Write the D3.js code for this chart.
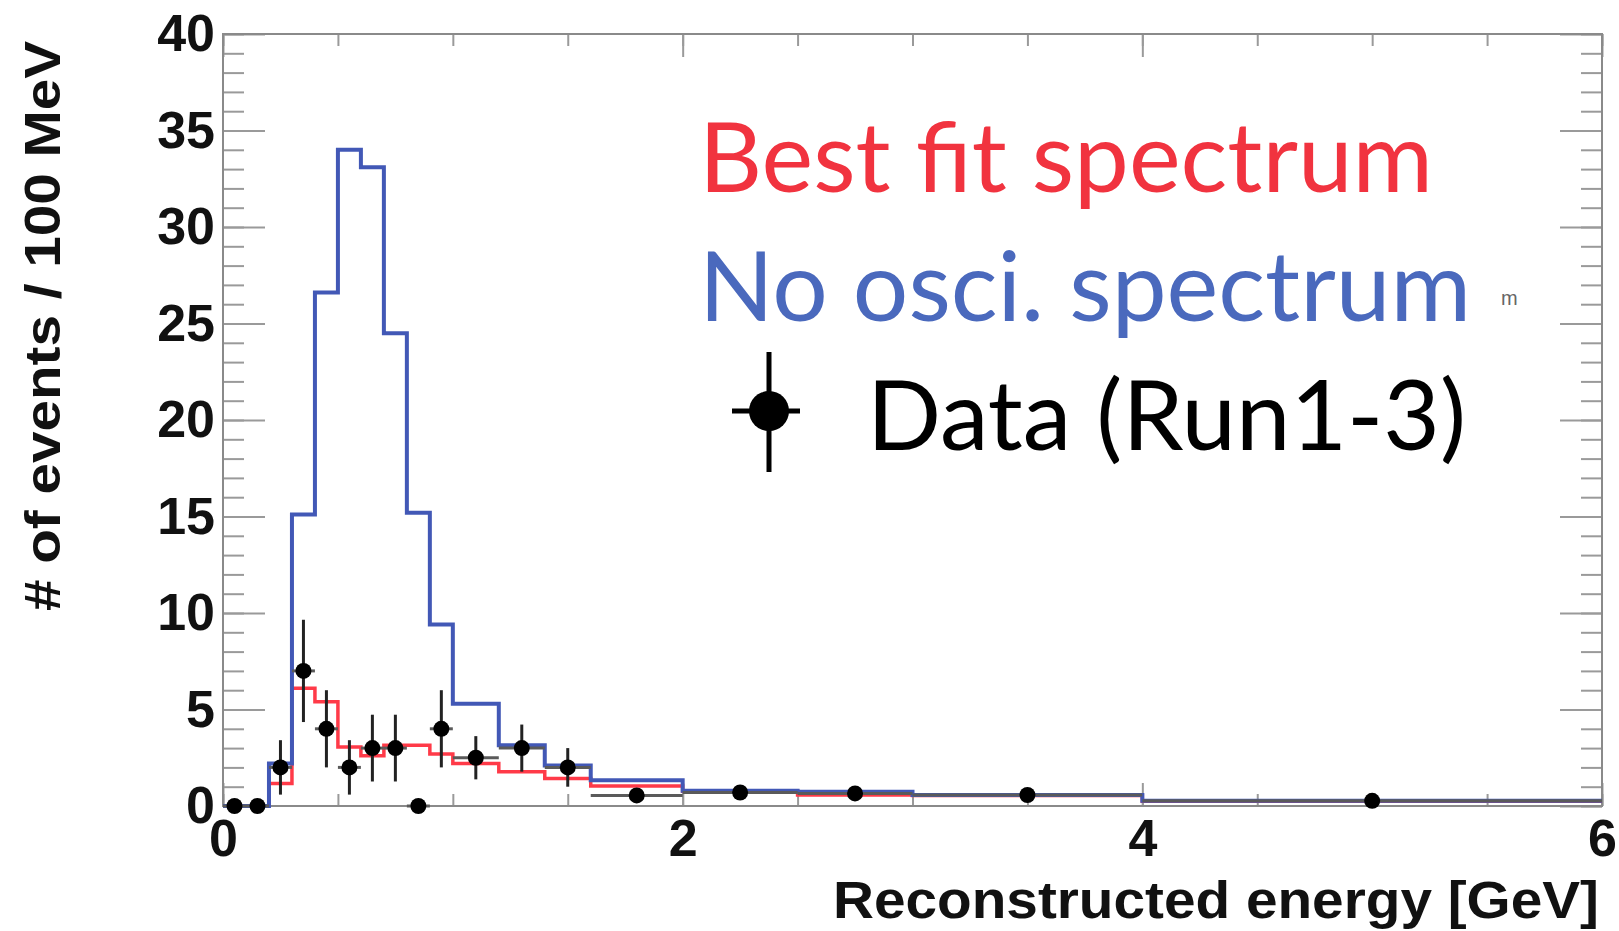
<!DOCTYPE html>
<html>
<head>
<meta charset="utf-8">
<script src="https://cdn.jsdelivr.net/npm/d3@7"></script>
<style>
  body { margin: 0; background: #fff; }
  svg { display: block; }
</style>
</head>
<body>
<svg id="chart"></svg>
<script>
// bin edges in GeV (variable width bins)
const binEdges = [0, 0.1, 0.2, 0.3, 0.4, 0.5, 0.6, 0.7, 0.8, 0.9, 1.0, 1.2, 1.4, 1.6, 2.0, 2.5, 3.0, 4.0, 6.0];
// events / 100 MeV
const noOscValues = [0, 0, 2.2, 15.1, 26.6, 34.0, 33.1, 24.5, 15.2, 9.4, 5.3, 3.15, 2.1, 1.34, 0.79, 0.74, 0.57, 0.27];
const bestFitValues = [0, 0, 1.17, 6.1, 5.4, 3.06, 2.6, 3.15, 3.15, 2.7, 2.2, 1.77, 1.43, 1.03, 0.76, 0.57, 0.55, 0.25];
const dataValues = [0, 0, 2, 7, 4, 2, 3, 3, 0, 4, 2.5, 3, 2, 0.55, 0.7, 0.65, 0.57, 0.27];
const dataErrors = [0, 0, 1.41, 2.65, 2, 1.41, 1.73, 1.73, 0, 2, 1.12, 1.22, 1, 0.35, 0.35, 0.35, 0.25, 0.12];
const xTickLabels = [0, 2, 4, 6];
const yTickLabels = [0, 5, 10, 15, 20, 25, 30, 35, 40];
const legendLabels = ["Best fit spectrum", "No osci. spectrum", "Data (Run1-3)"];

const width = 1619, height = 931;
const margin = {top: 34, right: 17, bottom: 125, left: 223};

let svg = d3.select("#chart")
            .attr("width", width)
            .attr("height", height);

let xScale = d3.scaleLinear()
                .domain([0, 6])
                .range([margin.left, width - margin.right]);

let yScale = d3.scaleLinear()
                .domain([0, 40])
                .range([height - margin.bottom, margin.top]);

const tickColor = "#9a9a9a";
const numFont = "'Liberation Sans', Arial, sans-serif";

// helper: draw one set of frame ticks
function drawTicks(axis, tx, ty) {
    let g = svg.append("g")
        .attr("transform", `translate(${tx},${ty})`)
        .call(axis);
    g.select(".domain").remove();
    g.selectAll("line").attr("stroke", tickColor).attr("stroke-width", 2);
    return g;
}

let xMinor = d3.range(0, 6.001, 0.5);
let yMinor = d3.range(0, 40.001, 1);

// bottom and top ticks (pointing inside)
drawTicks(d3.axisTop(xScale).tickValues(xMinor).tickSize(12).tickFormat(""), 0, yScale(0));
drawTicks(d3.axisTop(xScale).tickValues(xTickLabels).tickSize(23).tickFormat(""), 0, yScale(0));
drawTicks(d3.axisBottom(xScale).tickValues(xMinor).tickSize(12).tickFormat(""), 0, yScale(40));
drawTicks(d3.axisBottom(xScale).tickValues(xTickLabels).tickSize(23).tickFormat(""), 0, yScale(40));

// left and right ticks
drawTicks(d3.axisRight(yScale).tickValues(yMinor).tickSize(21).tickFormat(""), xScale(0), 0);
drawTicks(d3.axisRight(yScale).tickValues(yTickLabels).tickSize(42).tickFormat(""), xScale(0), 0);
drawTicks(d3.axisLeft(yScale).tickValues(yMinor).tickSize(21).tickFormat(""), xScale(6), 0);
drawTicks(d3.axisLeft(yScale).tickValues(yTickLabels).tickSize(42).tickFormat(""), xScale(6), 0);

// frame
svg.append("rect")
    .attr("x", xScale(0))
    .attr("y", yScale(40))
    .attr("width", xScale(6) - xScale(0))
    .attr("height", yScale(0) - yScale(40))
    .attr("fill", "none")
    .attr("stroke", "#8a8a8a")
    .attr("stroke-width", 2);

// tick labels
let xLabels = svg.append("g")
    .attr("transform", `translate(0,${yScale(0)})`)
    .call(d3.axisBottom(xScale).tickValues(xTickLabels).tickSize(0).tickPadding(13).tickFormat(d3.format("d")));
xLabels.select(".domain").remove();
xLabels.selectAll("text")
    .attr("font-family", numFont)
    .attr("font-weight", "bold")
    .attr("font-size", 52)
    .attr("fill", "#111");

let yLabels = svg.append("g")
    .attr("transform", `translate(${xScale(0)},0)`)
    .call(d3.axisLeft(yScale).tickValues(yTickLabels).tickSize(0).tickPadding(8).tickFormat(d3.format("d")));
yLabels.select(".domain").remove();
yLabels.selectAll("text")
    .attr("font-family", numFont)
    .attr("font-weight", "bold")
    .attr("font-size", 52)
    .attr("fill", "#111");

// axis titles
svg.append("text")
    .attr("x", xScale(6) - 3)
    .attr("y", 918)
    .attr("text-anchor", "end")
    .attr("font-family", numFont)
    .attr("font-weight", "bold")
    .attr("font-size", 51)
    .attr("textLength", 766)
    .attr("lengthAdjust", "spacingAndGlyphs")
    .attr("fill", "#111")
    .text("Reconstructed energy [GeV]");

svg.append("text")
    .attr("transform", "rotate(-90)")
    .attr("x", -41)
    .attr("y", 60)
    .attr("text-anchor", "end")
    .attr("font-family", numFont)
    .attr("font-weight", "bold")
    .attr("font-size", 50)
    .attr("textLength", 570)
    .attr("lengthAdjust", "spacingAndGlyphs")
    .attr("fill", "#111")
    .text("# of events / 100 MeV");

// histograms as step lines
function stepPoints(values) {
    let pts = [[binEdges[0], 0]];
    values.forEach((v, i) => {
        pts.push([binEdges[i], v]);
        pts.push([binEdges[i + 1], v]);
    });
    return pts;
}

let stepLine = d3.line()
    .x(d => xScale(d[0]))
    .y(d => yScale(d[1]));

svg.append("path")
    .datum(stepPoints(bestFitValues))
    .attr("d", stepLine)
    .attr("fill", "none")
    .attr("stroke", "#ff3a48")
    .attr("stroke-width", 3.5);

svg.append("path")
    .datum(stepPoints(noOscValues))
    .attr("d", stepLine)
    .attr("fill", "none")
    .attr("stroke", "#4258b6")
    .attr("stroke-width", 4);

// data points with error bars
let points = dataValues.map((v, i) => ({
    x0: binEdges[i],
    x1: binEdges[i + 1],
    xc: (binEdges[i] + binEdges[i + 1]) / 2,
    v: v,
    err: dataErrors[i]
}));

let dataG = svg.append("g");

dataG.selectAll(".xerr")
    .data(points)
    .enter()
    .append("line")
        .attr("x1", d => xScale(d.x0))
        .attr("x2", d => xScale(d.x1))
        .attr("y1", d => yScale(d.v))
        .attr("y2", d => yScale(d.v))
        .attr("stroke", "#5a5a5a")
        .attr("stroke-width", 3);

dataG.selectAll(".yerr")
    .data(points.filter(d => d.err > 0))
    .enter()
    .append("line")
        .attr("x1", d => xScale(d.xc))
        .attr("x2", d => xScale(d.xc))
        .attr("y1", d => yScale(d.v - d.err))
        .attr("y2", d => yScale(d.v + d.err))
        .attr("stroke", "#222")
        .attr("stroke-width", 3);

dataG.selectAll("circle")
    .data(points)
    .enter()
    .append("circle")
        .attr("cx", d => xScale(d.xc))
        .attr("cy", d => yScale(d.v))
        .attr("r", 8)
        .attr("fill", "#000");

// legend
const legendFont = "Lato, 'Open Sans', sans-serif";

svg.append("text")
    .attr("x", 699)
    .attr("y", 192)
    .attr("font-family", legendFont)
    .attr("font-size", 96)
    .attr("textLength", 734)
    .attr("lengthAdjust", "spacingAndGlyphs")
    .attr("fill", "#f1333f")
    .text(legendLabels[0]);

svg.append("text")
    .attr("x", 699)
    .attr("y", 321)
    .attr("font-family", legendFont)
    .attr("font-size", 96)
    .attr("textLength", 772)
    .attr("lengthAdjust", "spacingAndGlyphs")
    .attr("fill", "#4a69bd")
    .text(legendLabels[1]);

svg.append("text")
    .attr("x", 867)
    .attr("y", 450)
    .attr("font-family", legendFont)
    .attr("font-size", 96)
    .attr("textLength", 599)
    .attr("lengthAdjust", "spacingAndGlyphs")
    .attr("fill", "#000")
    .text(legendLabels[2]);

// legend marker
let marker = svg.append("g").attr("transform", "translate(769,411)");
marker.append("line")
    .attr("x1", 0).attr("x2", 0).attr("y1", -59).attr("y2", 61)
    .attr("stroke", "#000").attr("stroke-width", 5);
marker.append("line")
    .attr("x1", -37).attr("x2", 31).attr("y1", 0).attr("y2", 0)
    .attr("stroke", "#000").attr("stroke-width", 5);
marker.append("circle")
    .attr("r", 20)
    .attr("fill", "#000");

// small stray glyph next to the legend
svg.append("text")
    .attr("x", 1501)
    .attr("y", 305)
    .attr("font-family", numFont)
    .attr("font-size", 20)
    .attr("fill", "#666")
    .text("m");
</script>
</body>
</html>
